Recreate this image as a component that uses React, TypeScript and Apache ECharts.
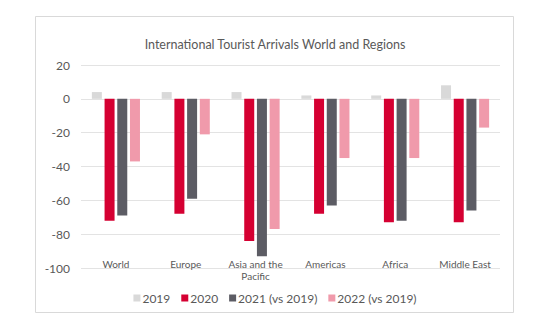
import React, { useEffect, useRef } from "react";
import * as echarts from "echarts";

const categories = ["World", "Europe", "Asia and the\nPacific", "Americas", "Africa", "Middle East"];
const seriesNames = ["2019", "2020", "2021 (vs 2019)", "2022 (vs 2019)"];
const values2019 = [4, 4, 4, 2, 2, 8];
const values2020 = [-72, -68, -84, -68, -73, -73];
const values2021 = [-69, -59, -93, -63, -72, -66];
const values2022 = [-37, -21, -77, -35, -35, -17];
const colors = ["#D9D9D9", "#D50032", "#5C5C64", "#F09AAB"];
const titleText = "International Tourist Arrivals World and Regions";

export default function App() {
  const ref = useRef<HTMLDivElement>(null);
  useEffect(() => {
    if (!ref.current) return;
    const chart = echarts.init(ref.current, null, { renderer: "svg" });
    const font = "Lato, 'Open Sans', sans-serif";
    const data = [values2019, values2020, values2021, values2022];
    chart.setOption({
      animation: false,
      textStyle: { fontFamily: font },
      title: {
        text: titleText,
        left: "center",
        top: 33,
        textStyle: { fontSize: 12.5, fontWeight: "normal", color: "#595959", fontFamily: font },
      },
      graphic: [
        {
          type: "rect",
          shape: { x: 35.5, y: 16.5, width: 478, height: 296 },
          style: { fill: "none", stroke: "#D9D9D9", lineWidth: 1 },
          silent: true,
        },
      ],
      legend: {
        data: seriesNames,
        top: 287,
        left: "center",
        itemWidth: 7,
        itemHeight: 7,
        itemGap: 11,
        icon: "rect",
        textStyle: { fontSize: 12, color: "#595959", fontFamily: font, padding: [0, 0, 0, -3] },
      },
      grid: { left: 81, right: 50, top: 65, bottom: 62, containLabel: false },
      xAxis: {
        type: "category",
        data: categories,
        position: "bottom",
        axisLine: { show: false, onZero: false },
        axisTick: { show: false },
        axisLabel: {
          margin: -10,
          fontSize: 10,
          lineHeight: 12,
          color: "#595959",
          fontFamily: font,
          interval: 0,
        },
      },
      yAxis: {
        type: "value",
        min: -100,
        max: 20,
        interval: 20,
        axisLine: { show: false },
        axisTick: { show: false },
        axisLabel: { fontSize: 12, color: "#595959", margin: 11, fontFamily: font },
        splitLine: { lineStyle: { color: "#E3E3E3", width: 1 } },
      },
      series: seriesNames.map((name, i) => ({
        name,
        type: "bar",
        data: data[i],
        barWidth: 10,
        barGap: "27%",
        itemStyle: { color: colors[i] },
      })),
    });
    return () => chart.dispose();
  }, []);
  return (
    <div
      ref={ref}
      style={{ position: "fixed", left: 0, top: 0, width: 550, height: 330, background: "#fff" }}
    />
  );
}
